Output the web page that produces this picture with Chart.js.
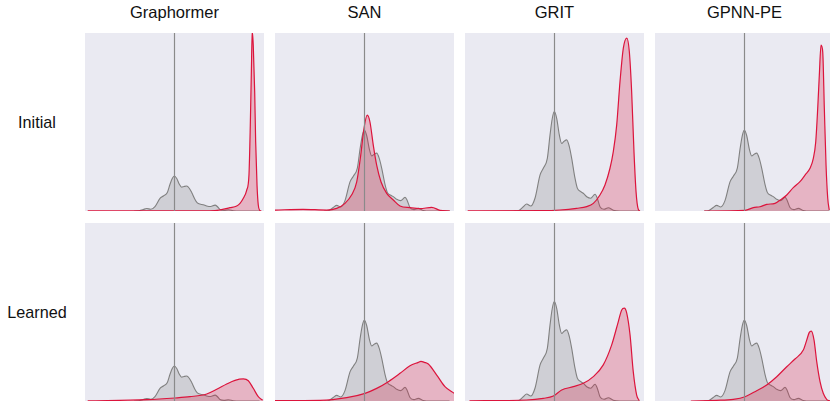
<!DOCTYPE html>
<html>
<head>
<meta charset="utf-8">
<script src="https://cdn.jsdelivr.net/npm/chart.js@4.4.0/dist/chart.umd.min.js"></script>
<style>
  html, body { margin: 0; padding: 0; background: #ffffff; }
  body { width: 830px; height: 401px; overflow: hidden; position: relative;
         font-family: "Liberation Sans", Arial, Helvetica, sans-serif; color: #111111; }
  .panel { position: absolute; width: 179px; height: 178px; }
  .panel canvas { display: block; }
  .title { position: absolute; top: 3px; width: 179px; text-align: center; font-size: 16.5px; white-space: nowrap; }
  .rowlab { position: absolute; left: 0; width: 74px; text-align: center; font-size: 16.2px; white-space: nowrap; }
</style>
</head>
<body>
<script>
// ---------------- DATA ----------------
const models = ["Graphormer", "SAN", "GRIT", "GPNN-PE"];
const stages = ["Initial", "Learned"];
const refLine = 0;

// reference (grey) density, shared by all panels
const greyX = [-0.45, -0.404, -0.349, -0.311, -0.266, -0.218, -0.162, -0.125, -0.080, -0.050, -0.025, -0.002, 0.025, 0.054, 0.080, 0.106, 0.136, 0.165, 0.192, 0.229, 0.255, 0.293, 0.322, 0.360, 0.404, 0.453, 0.478, 0.508, 0.553, 0.601, 0.657, 0.732, 0.95];
const greyY = [0, 0.003, 0.043, 0.07, 0.05, 0.128, 0.36, 0.43, 0.53, 0.765, 0.93, 1.0, 0.93, 0.765, 0.68, 0.70, 0.715, 0.65, 0.53, 0.33, 0.23, 0.195, 0.178, 0.144, 0.128, 0.168, 0.128, 0.043, 0.017, 0.033, 0.007, 0, 0];

// model (red) densities
const graphormerInitialX = [-0.97, -0.7, 0.3, 0.452, 0.620, 0.695, 0.732, 0.769, 0.807, 0.832, 0.847, 0.858, 0.869, 0.880, 0.896, 0.907, 0.922, 0.936, 0.952, 0.97];
const graphormerInitialY = [0.004, 0.003, 0.004, 0.01, 0.095, 0.143, 0.22, 0.363, 0.6, 1.03, 2.46, 3.89, 5.1, 4.74, 3.4, 1.97, 0.74, 0.17, 0.02, 0];
const graphormerLearnedX = [-0.97, -0.311, 0.006, 0.173, 0.36, 0.472, 0.583, 0.676, 0.769, 0.825, 0.880, 0.936, 0.985];
const graphormerLearnedY = [0.003, 0.037, 0.086, 0.123, 0.2, 0.334, 0.486, 0.59, 0.63, 0.58, 0.363, 0.123, 0.02];

const sanInitialX = [-1, -0.687, -0.422, -0.311, -0.218, -0.143, -0.087, -0.042, -0.006, 0.031, 0.061, 0.098, 0.136, 0.184, 0.248, 0.322, 0.397, 0.508, 0.620, 0.751, 0.844, 0.955];
const sanInitialY = [0.012, 0.02, 0.012, 0.033, 0.095, 0.2, 0.36, 0.69, 1.02, 1.185, 1.1, 0.815, 0.568, 0.362, 0.218, 0.136, 0.062, 0.041, 0.029, 0.045, 0.008, 0];
const sanLearnedX = [-1, -0.497, -0.199, 0.006, 0.136, 0.266, 0.397, 0.508, 0.601, 0.63, 0.67, 0.713, 0.807, 0.899, 1.0];
const sanLearnedY = [0.005, 0.008, 0.041, 0.095, 0.156, 0.239, 0.342, 0.436, 0.478, 0.49, 0.478, 0.457, 0.321, 0.177, 0.095];

const gritInitialX = [-0.97, -0.125, 0.061, 0.248, 0.36, 0.434, 0.508, 0.564, 0.620, 0.657, 0.695, 0.732, 0.769, 0.807, 0.836, 0.862, 0.888, 0.911, 0.936, 0.955];
const gritInitialY = [0.002, 0.003, 0.01, 0.027, 0.044, 0.077, 0.161, 0.262, 0.43, 0.597, 0.866, 1.302, 1.638, 1.739, 1.604, 1.2, 0.597, 0.195, 0.017, 0];
const gritLearnedX = [-0.95, -0.311, -0.125, -0.013, 0.08, 0.21, 0.322, 0.434, 0.545, 0.639, 0.713, 0.751, 0.780, 0.807, 0.844, 0.88, 0.918, 0.947];
const gritLearnedY = [0.002, 0.01, 0.027, 0.05, 0.111, 0.144, 0.178, 0.245, 0.363, 0.564, 0.799, 0.916, 0.933, 0.883, 0.665, 0.295, 0.06, 0.003];

const gpnnInitialX = [-0.45, 0.006, 0.098, 0.173, 0.248, 0.341, 0.416, 0.472, 0.545, 0.620, 0.676, 0.732, 0.769, 0.796, 0.818, 0.836, 0.855, 0.874, 0.892, 0.911, 0.930, 0.947];
const gpnnInitialY = [0, 0.008, 0.041, 0.053, 0.082, 0.095, 0.148, 0.198, 0.288, 0.362, 0.444, 0.527, 0.65, 0.856, 1.268, 1.679, 2.049, 1.967, 1.268, 0.568, 0.157, 0.012];
const gpnnLearnedX = [-0.6, -0.311, -0.125, 0.006, 0.136, 0.248, 0.36, 0.472, 0.564, 0.657, 0.695, 0.724, 0.746, 0.777, 0.807, 0.844, 0.880, 0.918, 0.955];
const gpnnLearnedY = [0, 0.008, 0.021, 0.053, 0.127, 0.198, 0.3, 0.424, 0.519, 0.63, 0.753, 0.848, 0.864, 0.753, 0.486, 0.239, 0.095, 0.021, 0];

// y-axis upper limit per column (shared by both rows)
const columnYMax = [5.09, 2.2, 1.79, 2.2];

// ---------------- BUILD ----------------
const redSeries = [
  [[graphormerInitialX, graphormerInitialY], [sanInitialX, sanInitialY], [gritInitialX, gritInitialY], [gpnnInitialX, gpnnInitialY]],
  [[graphormerLearnedX, graphormerLearnedY], [sanLearnedX, sanLearnedY], [gritLearnedX, gritLearnedY], [gpnnLearnedX, gpnnLearnedY]]
];
const toPts = (xs, ys) => xs.map((x, i) => ({ x: x, y: ys[i] }));

const bgPlugin = {
  id: 'bg',
  beforeDraw(chart) {
    const { ctx, chartArea: a } = chart;
    ctx.save();
    ctx.fillStyle = '#EAEAF2';
    ctx.fillRect(a.left, a.top, a.right - a.left, a.bottom - a.top);
    ctx.restore();
  }
};
const vlinePlugin = {
  id: 'vline',
  afterDatasetsDraw(chart) {
    const { ctx, chartArea: a, scales } = chart;
    const px = scales.x.getPixelForValue(refLine);
    ctx.save();
    ctx.strokeStyle = '#8a8a8a';
    ctx.lineWidth = 1.2;
    ctx.beginPath();
    ctx.moveTo(px, a.top);
    ctx.lineTo(px, a.bottom);
    ctx.stroke();
    ctx.restore();
  }
};

const colLeft = [85, 275, 465, 655];
const rowTop = [33, 223];

models.forEach((m, c) => {
  const t = document.createElement('div');
  t.className = 'title';
  t.style.left = colLeft[c] + 'px';
  t.textContent = m;
  document.body.appendChild(t);
});
stages.forEach((s, r) => {
  const l = document.createElement('div');
  l.className = 'rowlab';
  l.style.top = (rowTop[r] + 80) + 'px';
  l.textContent = s;
  document.body.appendChild(l);
});

for (let r = 0; r < 2; r++) {
  for (let c = 0; c < 4; c++) {
    const div = document.createElement('div');
    div.className = 'panel';
    div.style.left = colLeft[c] + 'px';
    div.style.top = rowTop[r] + 'px';
    const cv = document.createElement('canvas');
    cv.width = 179; cv.height = 178;
    div.appendChild(cv);
    document.body.appendChild(div);
    const [rx, ry] = redSeries[r][c];
    new Chart(cv, {
      type: 'line',
      data: {
        datasets: [
          { data: toPts(rx, ry), borderColor: '#DC143C', backgroundColor: 'rgba(220,20,60,0.25)',
            borderWidth: 1.2, fill: 'origin', cubicInterpolationMode: 'monotone', pointRadius: 0 },
          { data: toPts(greyX, greyY), borderColor: '#808080', backgroundColor: 'rgba(128,128,128,0.25)',
            borderWidth: 1.1, fill: 'origin', cubicInterpolationMode: 'monotone', pointRadius: 0 }
        ]
      },
      options: {
        responsive: false, animation: false, devicePixelRatio: 1,
        layout: { padding: 0 },
        plugins: { legend: { display: false }, tooltip: { enabled: false }, title: { display: false } },
        scales: {
          x: { type: 'linear', min: -1, max: 1, display: false },
          y: { min: 0, max: columnYMax[c], display: false }
        }
      },
      plugins: [bgPlugin, vlinePlugin]
    });
  }
}
</script>
</body>
</html>
